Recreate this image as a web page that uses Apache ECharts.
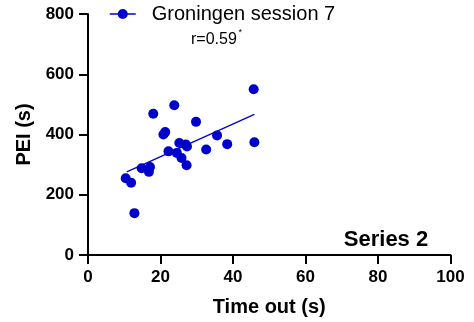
<!DOCTYPE html>
<html>
<head>
<meta charset="utf-8">
<script src="https://cdn.jsdelivr.net/npm/echarts@6/dist/echarts.min.js"></script>
<style>
  html, body { margin: 0; padding: 0; background: #fff; }
  #chart { width: 474px; height: 322px; }
</style>
</head>
<body>
<div id="chart"></div>
<script>
// time out (s) vs PEI (s), one dot per session point
const timeOut = [45.7, 23.8, 18.0, 29.8, 20.8, 21.3, 35.6, 25.2, 27.0, 27.3, 38.4, 45.9,
  22.2, 24.5, 25.8, 32.6, 27.2, 14.8, 17.1, 16.8, 10.4, 11.9, 12.8]
const pei = [550, 497, 469, 442, 400, 408, 397, 372, 367, 360, 368, 374,
  344, 339, 322, 350, 298, 288, 292, 276, 255, 240, 139]

// regression line end points
const fitX = [10.7, 45.9]
const fitY = [276, 467]

const xTicks = { min: 0, max: 100, interval: 20 }
const yTicks = { min: 0, max: 800, interval: 200 }

const seriesName = 'Groningen session 7'
const corrLabel = 'r=0.59'
const panelLabel = 'Series 2'

const BLUE = '#0000CC'
const FONT = 'Arial, "Liberation Sans", sans-serif'

const points = timeOut.map((x, i) => [x, pei[i]])
const fit = fitX.map((x, i) => [x, fitY[i]])

const axisCommon = {
  type: 'value',
  splitLine: { show: false },
  axisLine: { show: true, onZero: false, lineStyle: { color: '#000', width: 2 } },
  axisTick: { show: true, inside: false, length: 9, lineStyle: { color: '#000', width: 2 } },
  axisLabel: { color: '#000', fontSize: 17, fontWeight: 'bold', fontFamily: FONT, margin: 14 },
  nameLocation: 'middle',
  nameTextStyle: { color: '#000', fontSize: 20, fontWeight: 'bold', fontFamily: FONT }
}

const chart = echarts.init(document.getElementById('chart'))
chart.setOption({
  animation: false,
  grid: { left: 88, right: 23.5, top: 14, bottom: 67, containLabel: false },
  xAxis: {
    ...axisCommon,
    ...xTicks,
    name: 'Time out (s)',
    nameGap: 42
  },
  yAxis: {
    ...axisCommon,
    ...yTicks,
    name: 'PEI (s)',
    nameGap: 51
  },
  legend: {
    left: 109,
    top: 4,
    padding: 0,
    itemWidth: 26,
    itemHeight: 12.5,
    data: [seriesName],
    lineStyle: { width: 1.5, opacity: 1, color: BLUE },
    textStyle: { color: '#000', fontSize: 20, fontFamily: FONT, padding: [0, 0, 0, 11] }
  },
  series: [
    {
      type: 'line',
      name: 'fit',
      data: fit,
      symbol: 'none',
      lineStyle: { color: BLUE, width: 1.3 },
      z: 2
    },
    {
      type: 'line',
      name: seriesName,
      data: points,
      symbol: 'circle',
      symbolSize: 10,
      showSymbol: true,
      itemStyle: { color: BLUE },
      lineStyle: { width: 0, opacity: 0, color: BLUE },
      z: 3
    }
  ],
  graphic: [
    {
      type: 'text',
      x: 191,
      y: 40,
      style: {
        text: corrLabel,
        verticalAlign: 'middle',
        fontSize: 16,
        fontFamily: FONT,
        fill: '#000'
      }
    },
    {
      type: 'text',
      x: 238.5,
      y: 33,
      style: {
        text: '*',
        verticalAlign: 'middle',
        fontSize: 9,
        fontFamily: FONT,
        fill: '#000'
      }
    },
    {
      type: 'text',
      x: 386,
      y: 240,
      style: {
        text: panelLabel,
        align: 'center',
        verticalAlign: 'middle',
        fontSize: 22,
        fontWeight: 'bold',
        fontFamily: FONT,
        fill: '#000'
      }
    }
  ]
})
</script>
</body>
</html>
